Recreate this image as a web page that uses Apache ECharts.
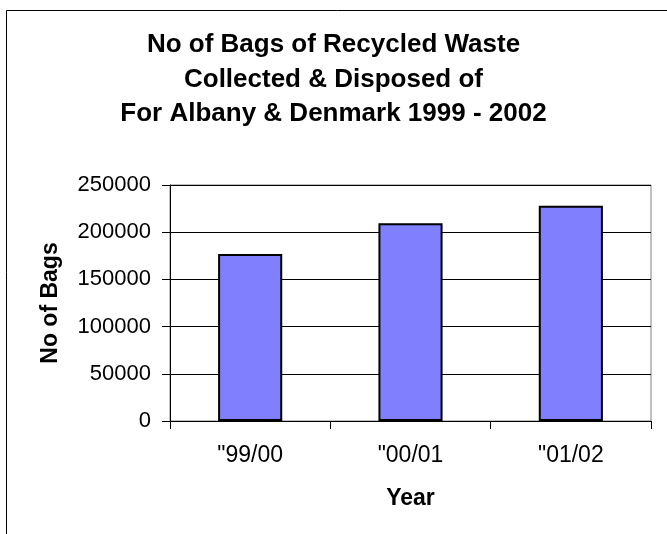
<!DOCTYPE html>
<html>
<head>
<meta charset="utf-8">
<script src="https://cdn.jsdelivr.net/npm/echarts@6/dist/echarts.min.js"></script>
<style>
html,body{margin:0;padding:0;background:#fff;}
#chart{width:667px;height:534px;}
</style>
</head>
<body>
<div id="chart"></div>
<script>
var titleLines = ['No of Bags of Recycled Waste', 'Collected & Disposed of', 'For Albany & Denmark 1999 - 2002'];
var categories = ['"99/00', '"00/01', '"01/02'];
var bagValues = [177000, 209500, 228000];
var yTicks = [0, 50000, 100000, 150000, 200000, 250000];
var xAxisName = 'Year';
var yAxisName = 'No of Bags';

var chart = echarts.init(document.getElementById('chart'), null, {renderer: 'canvas'});
var FONT = '"Liberation Sans", Arial, sans-serif';
chart.setOption({
  animation: false,
  backgroundColor: '#ffffff',
  graphic: [{
    type: 'rect',
    shape: {x: 6.5, y: 10.5, width: 700, height: 600},
    style: {fill: 'none', stroke: '#000', lineWidth: 1},
    silent: true, z: 0
  }],
  title: {
    text: titleLines.join('\n'),
    left: 'center',
    top: 23,
    textStyle: {fontFamily: FONT, fontSize: 26, fontWeight: 'bold', color: '#000', lineHeight: 34.5}
  },
  grid: {left: 170, right: 16, top: 185, bottom: 113, show: true, borderColor: '#808080', borderWidth: 1, backgroundColor: 'transparent'},
  xAxis: {
    type: 'category',
    data: categories,
    boundaryGap: true,
    name: xAxisName,
    nameLocation: 'middle',
    nameGap: 66,
    nameTextStyle: {fontFamily: FONT, fontSize: 23, fontWeight: 'bold', color: '#000'},
    axisLine: {show: true, lineStyle: {color: '#000', width: 1}},
    axisTick: {show: true, length: 8, alignWithLabel: false, lineStyle: {color: '#000'}},
    axisLabel: {fontFamily: FONT, fontSize: 23, color: '#000', margin: 23},
    splitLine: {show: false}
  },
  yAxis: {
    type: 'value',
    min: yTicks[0],
    max: yTicks[yTicks.length - 1],
    interval: yTicks[1] - yTicks[0],
    name: yAxisName,
    nameLocation: 'middle',
    nameGap: 108,
    nameRotate: 90,
    nameTextStyle: {fontFamily: FONT, fontSize: 23, fontWeight: 'bold', color: '#000'},
    axisLine: {show: true, lineStyle: {color: '#000', width: 1}},
    axisTick: {show: true, length: 8, lineStyle: {color: '#000'}},
    axisLabel: {fontFamily: FONT, fontSize: 22, color: '#000', margin: 19, formatter: function (v) { return String(v); }},
    splitLine: {show: true, lineStyle: {color: '#000', width: 1}}
  },
  series: [{
    type: 'bar',
    data: bagValues,
    barWidth: '40%',
    itemStyle: {color: '#8080FF', borderColor: '#000', borderWidth: 2}
  }]
});
</script>
</body>
</html>
